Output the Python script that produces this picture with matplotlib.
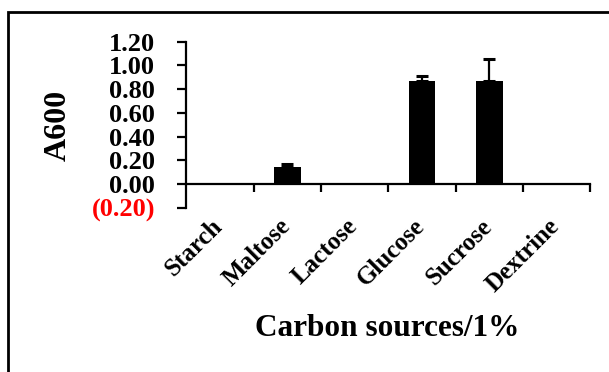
import matplotlib
matplotlib.use('Agg')
import matplotlib.pyplot as plt
import matplotlib.transforms as mtransforms
from matplotlib.patches import Rectangle
import numpy as np

# data
sources = ['Starch', 'Maltose', 'Lactose', 'Glucose', 'Sucrose', 'Dextrine']
a600 = [0.0, 0.147, 0.01, 0.872, 0.867, 0.01]
err_up = [0.0, 0.02, 0.0, 0.04, 0.19, 0.0]
yticks = [-0.2, 0.0, 0.2, 0.4, 0.6, 0.8, 1.0, 1.2]

plt.rcParams['font.family'] = ['Liberation Serif', 'DejaVu Serif']
plt.rcParams['font.weight'] = 'bold'

fig = plt.figure(figsize=(6.09, 3.72), dpi=100)
ax = fig.add_axes([186.4/609, (372-207.7)/372, 403.9/609, 166/372])

x = np.arange(len(sources))
ax.bar(x, a600, width=0.40, color='black', edgecolor='none', zorder=3)

# plus-only error bars, skipped where there is none
has_err = np.array(err_up) > 0
ax.errorbar(x[has_err], np.array(a600)[has_err],
            yerr=[np.zeros(has_err.sum()), np.array(err_up)[has_err]],
            fmt='none', ecolor='black', elinewidth=1.6, capsize=4.3, capthick=2.2, zorder=4)

ax.set_xlim(-0.5, 5.5)
ax.set_ylim(-0.2, 1.2)

# spines: y axis on the left, x axis at y = 0
ax.spines['top'].set_visible(False)
ax.spines['right'].set_visible(False)
ax.spines['bottom'].set_position(('data', 0))
ax.spines['left'].set_linewidth(1.6)
ax.spines['bottom'].set_linewidth(1.6)

ax.set_yticks(yticks)
ax.set_yticklabels(['({:.2f})'.format(-v) if v < 0 else '{:.2f}'.format(v) for v in yticks],
                   fontsize=19, fontweight='bold')
for lab, v in zip(ax.get_yticklabels(), yticks):
    if v < 0:
        lab.set_color('red')
ax.tick_params(axis='y', direction='out', length=6.5, width=1.6, pad=16)

# category boundaries as ticks
ax.set_xticks(x + 0.5)
ax.set_xticklabels([])
ax.tick_params(axis='x', direction='out', length=6, width=1.6)

# category names, rotated, below the axes
name_tr = mtransforms.offset_copy(ax.get_xaxis_transform(), fig=fig, x=-9, y=-7, units='dots')
for xi, name in zip(x, sources):
    ax.text(xi, 0, name, transform=name_tr, rotation=45, rotation_mode='anchor',
            ha='right', va='top', fontsize=18, fontweight='bold')

ax.set_ylabel('A600', fontsize=23, fontweight='bold')
ax.yaxis.set_label_coords((73 - 186.4) / 403.9, 0.5 + (166/2 - (125 - 41.7)) / 166)

fig.text(387/609, 1 - 328/372, 'Carbon sources/1%', fontsize=22.5, fontweight='bold',
         ha='center', va='center')

# outer frame, cut off at right and bottom
fig.patches.append(Rectangle((7.8/609, -0.1), 1.2, 1 - 12.3/372 + 0.1, transform=fig.transFigure,
                             fill=False, edgecolor='black', linewidth=2))

fig.savefig('out.png', dpi=100)
